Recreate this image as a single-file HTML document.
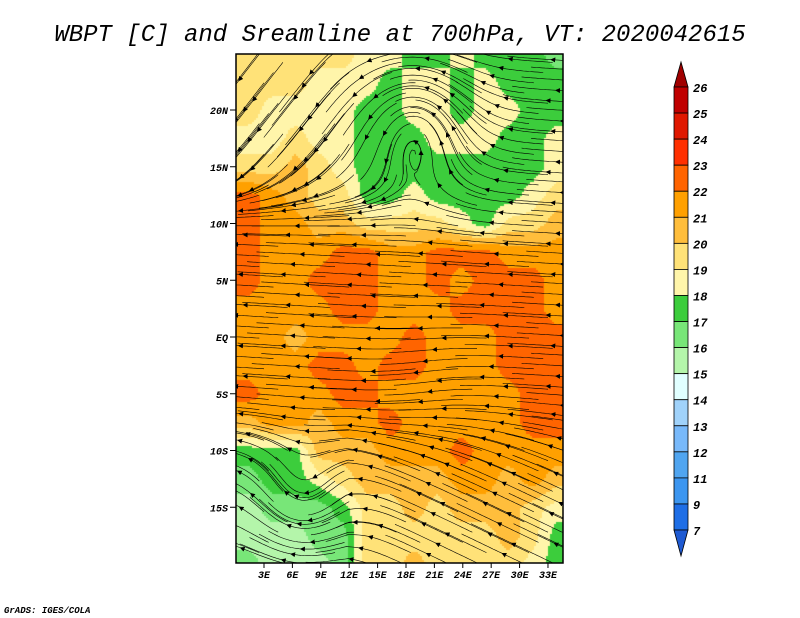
<!DOCTYPE html>
<html><head><meta charset="utf-8"><style>
body{margin:0;background:#fff;width:800px;height:618px;overflow:hidden;position:relative}
svg text{font-family:"Liberation Mono",monospace;font-style:italic}
#cv{position:absolute;left:236px;top:54px}
#s{position:absolute;left:0;top:0}
</style></head><body>
<canvas id="cv" width="327" height="509"></canvas>
<svg id="s" width="800" height="618" xmlns="http://www.w3.org/2000/svg">
<defs>
<clipPath id="clip"><rect x="236" y="54" width="327" height="509"/></clipPath>
<marker id="arr" markerWidth="5" markerHeight="5" refX="2.5" refY="2.5" orient="auto" markerUnits="userSpaceOnUse"><path d="M0,0 L5,2.5 L0,5 z" fill="#000"/></marker>
</defs>
<text x="400" y="41" text-anchor="middle" font-size="24" fill="#000">WBPT [C] and Sreamline at 700hPa, VT: 2020042615</text>
<g id="stream" clip-path="url(#clip)"></g>
<rect x="236" y="54" width="327" height="509" fill="none" stroke="#000" stroke-width="1.5"/>
<g id="axes"></g>
<g id="cbar"></g>
<text x="4" y="613" font-size="9" font-weight="bold">GrADS: IGES/COLA</text>
</svg>
<script>
const NS="http://www.w3.org/2000/svg";
const latRows=[25,22.5,20,17.5,15,12.5,10,7.5,5,2.5,0,-2.5,-5,-7.5,-10,-12.5,-15,-17.5,-20];
const lonCols=[0,2.5,5,7.5,10,12.5,15,17.5,20,22.5,25,27.5,30,32.5];
const wbpt=[
[19.5,19.5,19.5,19.5,19.5,18.5,18.5,17.5,17.5,18.5,17.5,17.5,17.5,16.5],
[19.5,19.5,19.5,18.5,18.5,18.5,17.5,18.5,18.5,17.5,18.5,17.5,17.5,17.5],
[19.5,18.5,18.5,18.5,18.5,17.5,17.5,18.5,18.5,17.5,18.5,18.5,17.5,17.5],
[18.5,18.5,19.5,18.5,18.5,17.5,17.5,17.5,18.5,18.5,18.5,17.5,17.5,18.5],
[19.5,19.5,20.5,19.5,18.5,17.5,17.5,17.5,17.5,17.5,17.5,17.5,17.5,18.5],
[22.5,21.5,20.5,19.5,19.5,17.5,17.5,18.5,17.5,17.5,17.5,17.5,18.5,19.5],
[22.5,21.5,21.5,20.5,20.5,19.5,19.5,19.5,19.5,18.5,17.5,19.5,19.5,20.5],
[22.5,21.5,21.5,21.5,22.5,22.5,21.5,21.5,22.5,22.5,22.5,21.5,21.5,21.5],
[22.5,21.5,21.5,22.5,22.5,22.5,21.5,21.5,22.5,21.5,22.5,22.5,22.5,21.5],
[21.5,21.5,21.5,21.5,22.5,22.5,21.5,21.5,21.5,22.5,22.5,22.5,22.5,21.5],
[21.5,21.5,20.5,21.5,21.5,21.5,21.5,22.5,21.5,21.5,21.5,22.5,22.5,22.5],
[21.5,21.5,21.5,22.5,22.5,21.5,22.5,22.5,21.5,21.5,21.5,22.5,22.5,22.5],
[22.5,21.5,21.5,21.5,22.5,22.5,21.5,21.5,21.5,21.5,21.5,21.5,22.5,22.5],
[20.5,21.5,21.5,20.5,21.5,21.5,22.5,21.5,21.5,21.5,21.5,21.5,22.5,22.5],
[17.5,17.5,17.5,20.5,20.5,20.5,21.5,21.5,21.5,22.5,21.5,21.5,21.5,21.5],
[16.5,17.5,17.5,18.5,19.5,20.5,20.5,20.5,20.5,21.5,21.5,20.5,21.5,20.5],
[15.5,16.5,16.5,16.5,17.5,19.5,19.5,20.5,19.5,20.5,20.5,20.5,19.5,18.5],
[15.5,15.5,15.5,16.5,16.5,19.5,19.5,19.5,19.5,19.5,19.5,20.5,19.5,17.5],
[16.5,15.5,15.5,15.5,16.5,19.5,19.5,20.5,19.5,19.5,19.5,19.5,18.5,17.5]];
const cbLabels=["26","25","24","23","22","21","20","19","18","17","16","15","14","13","12","11","9","7"];
const cbColors=["#c00000","#e01800","#ff3000","#ff6400","#ffa000","#ffbe3c","#ffe278","#fff5aa","#3ccd3c","#78e678","#b4f5aa","#e1ffff","#a0d2fa","#78b9fa","#50a5f0","#3c96f0","#1e6ee6"];
const X=lon=>264+(lon-3)*9.466, Y=lat=>337-lat*11.35;
const lv=[26,25,24,23,22,21,20,19,18,17,16,15,14,13,12,11,9,7];
function colorFor(v){for(let i=0;i<17;i++){if(v>=lv[i+1])return cbColors[i];}return "#1e5ad2";}
function el(t,a,p){const e=document.createElementNS(NS,t);for(const k in a)e.setAttribute(k,a[k]);p.appendChild(e);return e;}
// field on canvas with bilinear interpolation
const cv=document.getElementById('cv'),ctx=cv.getContext('2d');
const nR=latRows.length,nC=lonCols.length;
function sample(lon,lat){
 let fi=(lon-1.25)/2.5, fj=(latRows[0]-lat)/2.5;
 fi=Math.max(0,Math.min(nC-1.0001,fi));fj=Math.max(0,Math.min(nR-1.0001,fj));
 const i=Math.floor(fi),j=Math.floor(fj),a=fi-i,b=fj-j;
 return (wbpt[j][i]*(1-a)+wbpt[j][i+1]*a)*(1-b)+(wbpt[j+1][i]*(1-a)+wbpt[j+1][i+1]*a)*b;
}
for(let py=0;py<509;py+=2){for(let px=0;px<327;px+=2){
 const lon=3+(px+236-264)/9.466, lat=(337-(py+54))/11.35;
 ctx.fillStyle=colorFor(sample(lon,lat));ctx.fillRect(px,py,2,2);
}}
// wind
function g(x,y,cx,cy,s){const dx=x-cx,dy=y-cy;return Math.exp(-(dx*dx+dy*dy)/s);}
function wind(lon,lat){
 let u=-1,v=0.05;
 const wN=1/(1+Math.exp(-(lat-13)*0.8)), wW=1/(1+Math.exp((lon-12)*0.6));
 v+=-0.7*wN*wW; u+=0.4*wN*wW;
 const k=g(lon,lat,19,19,30);
 u+=-(lat-19)*0.45*k; v+=(lon-19)*0.45*k;
 const k2=g(lon,lat,7,-15,25);
 u+=(lat+15)*0.3*k2; v+=-(lon-7)*0.3*k2;
 const wS=1/(1+Math.exp((lat+9)*0.8));
 v+=0.35*wS*(lon>12?1:0.2);
 v+=-0.15*g(lon,lat,20,-4,30);
 const m=Math.hypot(u,v)||1;return[u/m,v/m];
}
const stream=document.getElementById('stream');
let sk=0;
for(let lat=26;lat>=-21;lat-=0.9){for(let lon=4;lon<=40;lon+=7){
 sk++;
 let pts=[],x=lon+((sk*37)%7)*0.5-1.5,y=lat;
 for(let i=0;i<32;i++){pts.push([X(x),Y(y)]);const w=wind(x,y);x+=w[0]*0.3;y+=w[1]*0.3;if(x<-1||y>26||y<-21)break;}
 if(pts.length<4)continue;
 const p=el('polyline',{points:pts.map(q=>q[0].toFixed(1)+','+q[1].toFixed(1)).join(' '),fill:'none',stroke:'#000','stroke-width':0.6},stream);
 
 
 const j=Math.min(pts.length-2,14);const a=pts[j],b=pts[j+1];
 const ar=el('line',{x1:a[0],y1:a[1],x2:b[0],y2:b[1],stroke:'#000','stroke-width':0.6,'marker-end':'url(#arr)'},stream);
 
 
}}
const axes=document.getElementById('axes');
const latTicks=[20,15,10,5,0,-5,-10,-15],latLbl=["20N","15N","10N","5N","EQ","5S","10S","15S"];
latTicks.forEach((l,i)=>{const y=Y(l);el('line',{x1:230,y1:y,x2:236,y2:y,stroke:'#000'},axes);
 const t=el('text',{x:228,y:y+4,'text-anchor':'end','font-size':10,'font-weight':'bold'},axes);t.textContent=latLbl[i];
 });
const lonTicks=[3,6,9,12,15,18,21,24,27,30,33];
lonTicks.forEach(l=>{const x=X(l);el('line',{x1:x,y1:563,x2:x,y2:568,stroke:'#000'},axes);
 const t=el('text',{x:x,y:578,'text-anchor':'middle','font-size':10,'font-weight':'bold'},axes);t.textContent=l+"E";
 });
const cb=document.getElementById('cbar');const cbTop=87,cbH=26.06,cx0=674,cx1=688;
el('polygon',{points:`${cx0},${cbTop} ${cx1},${cbTop} ${(cx0+cx1)/2},62`,fill:'#a00000',stroke:'#000','stroke-width':0.8},cb);
cbColors.forEach((c,i)=>{const r=el('rect',{x:cx0,y:cbTop+i*cbH,width:cx1-cx0,height:cbH,fill:c,stroke:'#000','stroke-width':0.8},cb);
 });
const cbBot=cbTop+17*cbH;
el('polygon',{points:`${cx0},${cbBot} ${cx1},${cbBot} ${(cx0+cx1)/2},556`,fill:'#1e5ad2',stroke:'#000','stroke-width':0.8},cb);
cbLabels.forEach((l,i)=>{const t=el('text',{x:693,y:cbTop+i*cbH+5,'font-size':12,'font-weight':'bold'},cb);t.textContent=l;
 });
</script>
</body></html>
